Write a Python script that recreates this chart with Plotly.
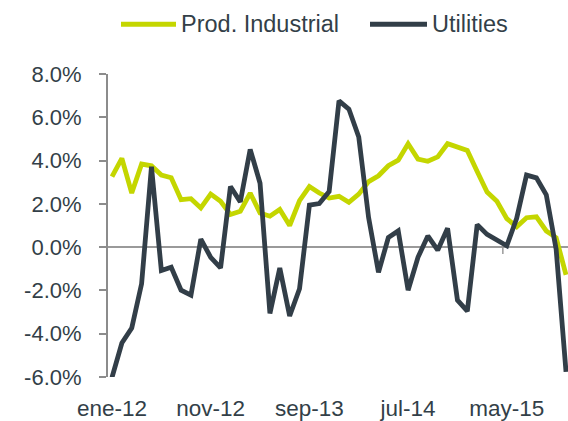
import plotly.graph_objects as go

# ---------------- data ----------------
month_abbr = ["ene", "feb", "mar", "abr", "may", "jun", "jul", "ago", "sep", "oct", "nov", "dic"]
years = ["12", "13", "14", "15"]
categories = [f"{m}-{y}" for y in years for m in month_abbr][:47]

prod_industrial = [3.26, 4.10, 2.50, 3.84, 3.76, 3.33, 3.21, 2.19, 2.24, 1.81,
                   2.45, 2.12, 1.51, 1.66, 2.50, 1.58, 1.43, 1.74, 1.00, 2.15,
                   2.80, 2.50, 2.27, 2.35, 2.07, 2.45, 3.03, 3.30, 3.76, 4.02,
                   4.78, 4.07, 3.97, 4.17, 4.78, 4.63, 4.47, 3.49, 2.55, 2.12,
                   1.32, 0.94, 1.36, 1.40, 0.75, 0.44, -1.28]

utilities = [-6.02, -4.43, -3.74, -1.69, 3.72, -1.08, -0.93, -1.99, -2.22, 0.37,
             -0.47, -0.96, 2.80, 2.09, 4.52, 2.95, -3.06, -0.96, -3.18, -1.92,
             1.94, 2.01, 2.57, 6.76, 6.38, 5.09, 1.36, -1.16, 0.44, 0.75,
             -1.99, -0.47, 0.52, -0.14, 0.87, -2.45, -2.96, 1.04, 0.59, 0.31,
             0.06, 1.33, 3.33, 3.20, 2.42, -0.10, -5.76]

tick_labels = ["ene-12", "nov-12", "sep-13", "jul-14", "may-15"]
y_ticks = [8, 6, 4, 2, 0, -2, -4, -6]

series_names = ["Prod. Industrial", "Utilities"]
colors = ["#C4D600", "#323E48"]

# ---------------- layout constants (page pixels, body margin removed) ----------------
W, H = 568, 421
L, T, B_pg = 108, 74, 381
B = H - B_pg
R = 0
plot_w = W - L - R
plot_h = H - T - B
step = 9.87          # px per month
x0_px = 112          # px of first point
x_start = -(x0_px - L) / step
x_end = x_start + plot_w / step

def px_x(px):
    return (px - L) / plot_w

def px_y(py):
    return (B_pg - py) / plot_h

FONT = "Liberation Sans, Arial, sans-serif"
TXT = "#333F48"

fig = go.Figure()
for name, vals, col in [(series_names[0], prod_industrial, colors[0]),
                        (series_names[1], utilities, colors[1])]:
    fig.add_trace(go.Scatter(x=categories, y=vals, mode="lines", name=name,
                             line=dict(color=col, width=4.8), showlegend=False,
                             hoverinfo="skip"))

# single visible tick mark on the zero line (between categories)
fig.add_shape(type="line", xref="x", yref="y", x0=39.6, x1=39.6, y0=0, y1=-0.32,
              line=dict(color="#9A9A9A", width=1.5))

# custom legend
leg_y = 23.5
for (x_a, x_b, tx), name, col in zip([(121, 176, 179), (370, 427, 430)], series_names, colors):
    fig.add_shape(type="line", xref="paper", yref="paper",
                  x0=px_x(x_a), x1=px_x(x_b), y0=px_y(leg_y), y1=px_y(leg_y),
                  line=dict(color=col, width=5))
    fig.add_annotation(xref="paper", yref="paper", x=px_x(tx), y=px_y(leg_y),
                       text=name, showarrow=False, xanchor="left", yanchor="middle",
                       font=dict(family=FONT, size=23.5, color=TXT))

fig.update_layout(
    width=W, height=H,
    margin=dict(l=L, r=R, t=T, b=B, pad=0),
    paper_bgcolor="white", plot_bgcolor="white",
    showlegend=False,
    hovermode=False,
    xaxis=dict(
        type="category",
        range=[x_start, x_end],
        tickvals=tick_labels, ticktext=tick_labels,
        showgrid=False, showline=False, zeroline=False,
        ticks="", ticklabelstandoff=15,
        tickfont=dict(family=FONT, size=22.5, color=TXT),
    ),
    yaxis=dict(
        range=[-6, 8],
        tickvals=y_ticks,
        ticktext=[f"{v:.1f}%" for v in y_ticks],
        showgrid=False,
        showline=True, linecolor="#8C8C8C", linewidth=2,
        ticks="outside", ticklen=7, tickcolor="#8C8C8C", tickwidth=2,
        zeroline=True, zerolinecolor="#9A9A9A", zerolinewidth=2,
        ticklabelstandoff=13,
        tickfont=dict(family=FONT, size=22, color=TXT),
    ),
)

fig.write_html(
    "out.html",
    config={"displayModeBar": False, "staticPlot": True},
    post_script="document.body.style.margin='0px';document.body.style.overflow='hidden';",
)
